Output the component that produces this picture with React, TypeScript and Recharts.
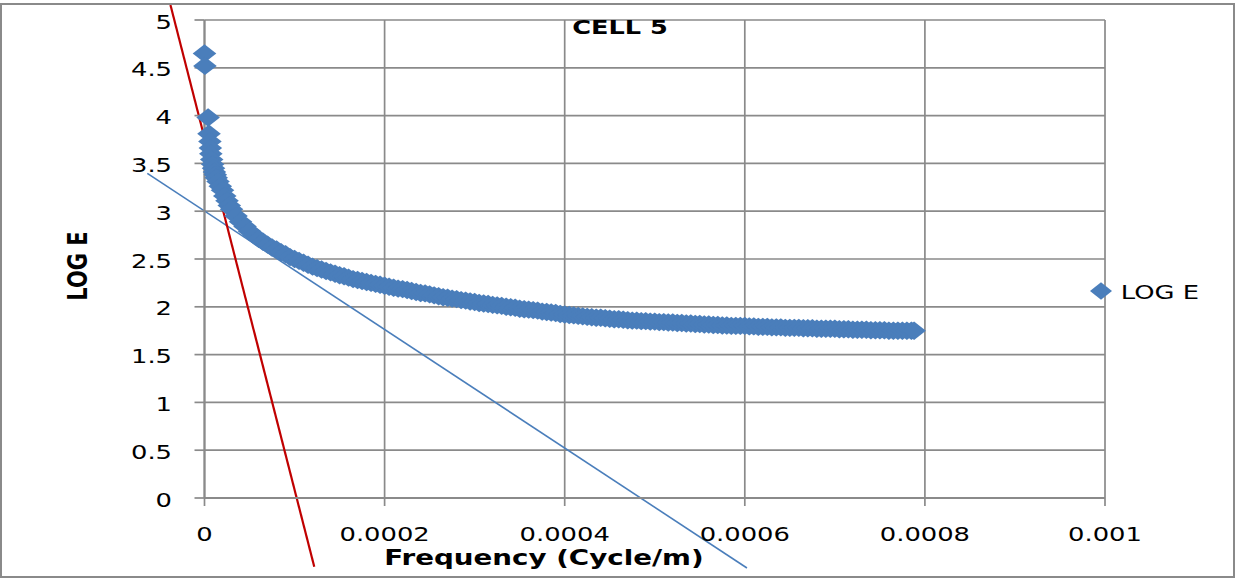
import React from 'react';
import { ScatterChart, Scatter, XAxis, YAxis, CartesianGrid, ReferenceLine, Legend } from 'recharts';

// Frequency (Cycle/m)
const freq = [
  0, 0.5e-6, 4e-6, 5e-6, 6e-6, 6.5e-6, 7e-6, 8e-6, 9e-6, 10e-6, 11e-6, 12e-6, 13e-6,
  15e-6, 17.5e-6, 20e-6, 22.5e-6, 25e-6, 27.5e-6, 30e-6,
  35e-6, 40e-6, 45e-6, 50e-6, 55e-6, 60e-6, 65e-6, 70e-6, 75e-6, 80e-6,
  85e-6, 90e-6, 95e-6, 100e-6, 105e-6, 110e-6, 115e-6, 120e-6, 125e-6, 130e-6,
  135e-6, 140e-6, 145e-6, 150e-6, 155e-6, 160e-6, 165e-6, 170e-6, 175e-6, 180e-6,
  185e-6, 190e-6, 195e-6, 200e-6, 205e-6, 210e-6, 215e-6, 220e-6, 225e-6, 230e-6,
  235e-6, 240e-6, 245e-6, 250e-6, 255e-6, 260e-6, 265e-6, 270e-6, 275e-6, 280e-6,
  285e-6, 290e-6, 295e-6, 300e-6, 305e-6, 310e-6, 315e-6, 320e-6, 325e-6, 330e-6,
  335e-6, 340e-6, 345e-6, 350e-6, 355e-6, 360e-6, 365e-6, 370e-6, 375e-6, 380e-6,
  385e-6, 390e-6, 395e-6, 400e-6, 405e-6, 410e-6, 415e-6, 420e-6, 425e-6, 430e-6,
  435e-6, 440e-6, 445e-6, 450e-6, 455e-6, 460e-6, 465e-6, 470e-6, 475e-6, 480e-6,
  485e-6, 490e-6, 495e-6, 500e-6, 505e-6, 510e-6, 515e-6, 520e-6, 525e-6, 530e-6,
  535e-6, 540e-6, 545e-6, 550e-6, 555e-6, 560e-6, 565e-6, 570e-6, 575e-6, 580e-6,
  585e-6, 590e-6, 595e-6, 600e-6, 605e-6, 610e-6, 615e-6, 620e-6, 625e-6, 630e-6,
  635e-6, 640e-6, 645e-6, 650e-6, 655e-6, 660e-6, 665e-6, 670e-6, 675e-6, 680e-6,
  685e-6, 690e-6, 695e-6, 700e-6, 705e-6, 710e-6, 715e-6, 720e-6, 725e-6, 730e-6,
  735e-6, 740e-6, 745e-6, 750e-6, 755e-6, 760e-6, 765e-6, 770e-6, 775e-6, 780e-6,
  785e-6, 788e-6,
];

// LOG E
const logE = [
  4.65, 4.52, 3.98, 3.81, 3.73, 3.66, 3.6, 3.54, 3.49, 3.45, 3.41, 3.38, 3.35,
  3.31, 3.26, 3.22, 3.16, 3.11, 3.06, 3.02,
  2.95, 2.89, 2.84, 2.79, 2.75, 2.71, 2.68, 2.65, 2.62, 2.6,
  2.57, 2.55, 2.52, 2.5, 2.48, 2.46, 2.44, 2.42, 2.405, 2.39,
  2.375, 2.36, 2.345, 2.33, 2.32, 2.305, 2.29, 2.28, 2.27, 2.26,
  2.25, 2.24, 2.23, 2.22, 2.21, 2.2, 2.19, 2.185, 2.175, 2.165,
  2.155, 2.145, 2.14, 2.13, 2.12, 2.11, 2.1, 2.095, 2.085, 2.08,
  2.07, 2.065, 2.055, 2.05, 2.04, 2.035, 2.03, 2.02, 2.015, 2.01,
  2.0, 1.995, 1.99, 1.98, 1.975, 1.97, 1.965, 1.96, 1.95, 1.945,
  1.94, 1.935, 1.925, 1.92, 1.915, 1.91, 1.905, 1.9, 1.895, 1.89,
  1.885, 1.885, 1.88, 1.875, 1.87, 1.87, 1.865, 1.86, 1.855, 1.855,
  1.85, 1.85, 1.845, 1.845, 1.84, 1.84, 1.835, 1.835, 1.83, 1.83,
  1.825, 1.825, 1.82, 1.82, 1.815, 1.815, 1.81, 1.81, 1.805, 1.805,
  1.8, 1.8, 1.8, 1.8, 1.795, 1.795, 1.79, 1.79, 1.79, 1.785,
  1.785, 1.785, 1.78, 1.78, 1.78, 1.78, 1.775, 1.775, 1.775, 1.77,
  1.77, 1.77, 1.77, 1.77, 1.765, 1.765, 1.765, 1.76, 1.76, 1.76,
  1.76, 1.755, 1.755, 1.755, 1.755, 1.75, 1.75, 1.75, 1.75, 1.75,
  1.75, 1.75,
];

const xTicks = [0, 0.0002, 0.0004, 0.0006, 0.0008, 0.001];
const yTicks = [0, 0.5, 1, 1.5, 2, 2.5, 3, 3.5, 4, 4.5, 5];

// hand-drawn trend lines (end points)
const redLineX = [-0.0000378, 0.0001219];
const redLineY = [5.157, -0.719];
const blueLineX = [-0.0000635, 0.0006024];
const blueLineY = [3.396, -0.732];

const title = 'CELL 5';
const xLabel = 'Frequency (Cycle/m)';
const yLabel = 'LOG E';
const seriesName = 'LOG E';

const points = freq.map((f, i) => ({ x: f, y: logE[i] }));

const FONT = '"DejaVu Sans", Verdana, sans-serif';
const SX = 1.29;
const GRID = '#8a8a8a';
const BLUE = '#4a7ebb';
const RED = '#c00000';

const Diamond = (props: any) => {
  const { cx, cy } = props;
  if (cx == null || cy == null) return null;
  return (
    <polygon
      points={`${cx},${cy - 9.2} ${cx + 11.8},${cy} ${cx},${cy + 9.2} ${cx - 11.8},${cy}`}
      fill={BLUE}
    />
  );
};

const YTick = (props: any) => {
  const { y, payload } = props;
  return (
    <g transform={`translate(172,${y + 8.5}) scale(${SX},1)`}>
      <text x={0} y={0} textAnchor="end" fontFamily={FONT} fontSize={20} fill="#000">
        {String(payload.value)}
      </text>
    </g>
  );
};

const XTick = (props: any) => {
  const { x, payload } = props;
  return (
    <g transform={`translate(${x},540.5) scale(${SX},1)`}>
      <text x={0} y={0} textAnchor="middle" fontFamily={FONT} fontSize={20} fill="#000">
        {String(payload.value)}
      </text>
    </g>
  );
};

const LegendContent = (props: any) => {
  const item = props.payload && props.payload[0];
  return (
    <svg width={140} height={30} style={{ overflow: 'visible', display: 'block' }}>
      <polygon points="5,15 16,6.2 27,15 16,23.8" fill={BLUE} />
      <g transform={`translate(35.7,22.6) scale(${SX},1)`}>
        <text x={0} y={0} fontFamily={FONT} fontSize={20} fill="#000">
          {item ? item.value : seriesName}
        </text>
      </g>
    </svg>
  );
};

export default function App() {
  return (
    <div style={{ position: 'absolute', left: 0, top: 0, width: 1239, height: 578, background: '#fff' }}>
      <ScatterChart
        width={1239}
        height={578}
        margin={{ top: 20, right: 134, bottom: 50, left: 144.5 }}
      >
        <CartesianGrid stroke={GRID} strokeWidth={1.7} />
        <XAxis
          type="number"
          dataKey="x"
          domain={[0, 0.001]}
          ticks={xTicks}
          height={30}
          tickSize={8}
          axisLine={{ stroke: GRID, strokeWidth: 2 }}
          tickLine={{ stroke: GRID, strokeWidth: 1.7 }}
          tick={<XTick />}
          interval={0}
        />
        <YAxis
          type="number"
          dataKey="y"
          domain={[0, 5]}
          ticks={yTicks}
          width={60}
          tickSize={10}
          axisLine={{ stroke: GRID, strokeWidth: 2 }}
          tickLine={{ stroke: GRID, strokeWidth: 1.7 }}
          tick={<YTick />}
          interval={0}
        />
        <Scatter
          name={seriesName}
          data={points}
          fill={BLUE}
          shape={Diamond}
          isAnimationActive={false}
        />
        <ReferenceLine
          segment={[
            { x: blueLineX[0], y: blueLineY[0] },
            { x: blueLineX[1], y: blueLineY[1] },
          ]}
          stroke={BLUE}
          strokeWidth={1.6}
          ifOverflow="visible"
        />
        <ReferenceLine
          segment={[
            { x: redLineX[0], y: redLineY[0] },
            { x: redLineX[1], y: redLineY[1] },
          ]}
          stroke={RED}
          strokeWidth={2.2}
          ifOverflow="visible"
        />
        <Legend
          layout="horizontal"
          verticalAlign="middle"
          align="center"
          content={LegendContent}
          wrapperStyle={{ left: 1085, top: 276, width: 140, height: 30 }}
        />
        <g transform={`translate(620,33.5) scale(1.28,1)`}>
          <text x={0} y={0} textAnchor="middle" fontFamily={FONT} fontWeight="bold" fontSize={20} fill="#000">
            {title}
          </text>
        </g>
        <g transform={`translate(544,565) scale(${SX},1)`}>
          <text x={0} y={0} textAnchor="middle" fontFamily={FONT} fontWeight="bold" fontSize={21.5} fill="#000">
            {xLabel}
          </text>
        </g>
        <g transform={`translate(86.6,266) scale(${SX},1) rotate(-90)`}>
          <text x={0} y={0} textAnchor="middle" fontFamily={FONT} fontWeight="bold" fontSize={21} fill="#000">
            {yLabel}
          </text>
        </g>
      </ScatterChart>
      <div
        style={{
          position: 'absolute',
          left: 0,
          top: 3,
          width: 1235,
          height: 575,
          border: `2px solid ${GRID}`,
          boxSizing: 'border-box',
          pointerEvents: 'none',
        }}
      />
    </div>
  );
}
